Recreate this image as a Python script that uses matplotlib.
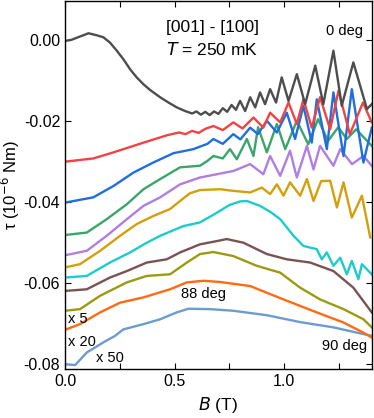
import matplotlib.pyplot as plt
from matplotlib.ticker import MultipleLocator

plt.rcParams["font.family"] = ["Liberation Sans", "DejaVu Sans"]

# 0 deg (gray)
b_0 = [0.0, 0.03, 0.068, 0.107, 0.145, 0.175, 0.205, 0.236, 0.266, 0.297, 0.327,
       0.358, 0.388, 0.434, 0.472, 0.51, 0.548, 0.58, 0.60, 0.62, 0.64, 0.66,
       0.68, 0.70, 0.72, 0.74, 0.76, 0.78, 0.799, 0.822, 0.845, 0.868, 0.89,
       0.913, 0.936, 0.963, 0.989, 1.02, 1.058, 1.096, 1.142, 1.179, 1.225,
       1.263, 1.316, 1.378, 1.40]
tau_0 = [-0.0002, 0.0001, 0.0009, 0.0017, 0.0012, 0.0007, -0.0006, -0.0026,
         -0.0047, -0.0072, -0.0092, -0.0109, -0.0123, -0.0141, -0.0154, -0.0166,
         -0.0175, -0.0181, -0.0176, -0.0184, -0.0177, -0.0185, -0.0176, -0.0182,
         -0.0168, -0.0177, -0.0160, -0.0172, -0.0150, -0.0175, -0.0141, -0.0166,
         -0.0129, -0.0158, -0.0121, -0.0154, -0.0092, -0.0150, -0.0084, -0.0158,
         -0.0063, -0.0158, -0.0026, -0.0162, -0.0055, -0.0170, -0.0158]

# red
b_r = [0.0, 0.129, 0.221, 0.358, 0.464, 0.52, 0.55, 0.58, 0.61, 0.64, 0.677,
       0.72, 0.768, 0.81, 0.86, 0.905, 0.936, 0.982, 1.02, 1.058, 1.088, 1.126,
       1.164, 1.21, 1.248, 1.30, 1.36, 1.40]
tau_r = [-0.0300, -0.0292, -0.0277, -0.0253, -0.0235, -0.0228, -0.0232, -0.0224,
         -0.0229, -0.0219, -0.0212, -0.0222, -0.0203, -0.0218, -0.0191, -0.0216,
         -0.0179, -0.0203, -0.0154, -0.0207, -0.0146, -0.0216, -0.0141, -0.0220,
         -0.0125, -0.0232, -0.0154, -0.0203]

# blue
b_b = [0.0, 0.129, 0.221, 0.312, 0.403, 0.495, 0.55, 0.586, 0.62, 0.65, 0.677,
       0.72, 0.768, 0.80, 0.845, 0.88, 0.921, 0.967, 1.012, 1.05, 1.088, 1.126,
       1.149, 1.195, 1.225, 1.271, 1.309, 1.362, 1.40]
tau_b = [-0.0401, -0.0388, -0.0360, -0.0327, -0.0302, -0.0279, -0.0273, -0.0269,
         -0.0262, -0.0256, -0.0244, -0.0256, -0.0232, -0.0245, -0.0216, -0.0232,
         -0.0199, -0.0228, -0.0179, -0.0244, -0.0162, -0.0253, -0.0146, -0.0269,
         -0.0129, -0.0286, -0.0121, -0.0302, -0.0216]

# green
b_g = [0.0, 0.099, 0.19, 0.282, 0.358, 0.434, 0.525, 0.57, 0.616, 0.65, 0.677,
       0.72, 0.753, 0.784, 0.83, 0.86, 0.881, 0.921, 0.967, 1.005, 1.058, 1.11,
       1.155, 1.20, 1.247, 1.286, 1.329, 1.40]
tau_g = [-0.0481, -0.0475, -0.0442, -0.0405, -0.0368, -0.0343, -0.0314, -0.0312,
         -0.0310, -0.0298, -0.0286, -0.0292, -0.0269, -0.0294, -0.0244, -0.0286,
         -0.0215, -0.0277, -0.0207, -0.0269, -0.0199, -0.0257, -0.0195, -0.0249,
         -0.0215, -0.0244, -0.0220, -0.0261]

# purple
b_p = [0.0, 0.099, 0.19, 0.282, 0.358, 0.434, 0.525, 0.616, 0.693, 0.768, 0.845,
       0.905, 0.936, 0.982, 1.027, 1.058, 1.104, 1.134, 1.164, 1.225, 1.256, 1.31,
       1.362, 1.40]
tau_p = [-0.0531, -0.0520, -0.0483, -0.0442, -0.0409, -0.0388, -0.0356, -0.0339,
         -0.0331, -0.0323, -0.0306, -0.0331, -0.0286, -0.0335, -0.0273, -0.0339,
         -0.0261, -0.0319, -0.0261, -0.0310, -0.0269, -0.0306, -0.0286, -0.0310]

# gold
b_y = [0.0, 0.068, 0.16, 0.251, 0.327, 0.403, 0.479, 0.525, 0.57, 0.616, 0.708,
       0.768, 0.845, 0.898, 0.936, 0.967, 0.997, 1.027, 1.073, 1.104, 1.134,
       1.169, 1.21, 1.241, 1.271, 1.309, 1.355, 1.393]
tau_y = [-0.0561, -0.0553, -0.0520, -0.0483, -0.0454, -0.0434, -0.0417, -0.0397,
         -0.0378, -0.0370, -0.0368, -0.0372, -0.0376, -0.0364, -0.0380, -0.0356,
         -0.0384, -0.0351, -0.0384, -0.0343, -0.0397, -0.0348, -0.0347, -0.0413,
         -0.0351, -0.0438, -0.0384, -0.0487]

# cyan
b_c = [0.0, 0.099, 0.205, 0.297, 0.373, 0.434, 0.54, 0.616, 0.693, 0.75, 0.80,
       0.83, 0.89, 0.94, 0.982, 1.043, 1.088, 1.149, 1.172, 1.195, 1.225, 1.256,
       1.286, 1.309, 1.339, 1.355, 1.40]
tau_c = [-0.0586, -0.0582, -0.0549, -0.0524, -0.0500, -0.0483, -0.0459, -0.0450,
         -0.0426, -0.0407, -0.0398, -0.0397, -0.0409, -0.0425, -0.0442, -0.0483,
         -0.0508, -0.0516, -0.0541, -0.0524, -0.0557, -0.0537, -0.0578, -0.0545,
         -0.0590, -0.0553, -0.0578]

# brown
b_n = [0.0, 0.099, 0.205, 0.282, 0.373, 0.464, 0.525, 0.616, 0.693, 0.738, 0.814,
       0.921, 1.012, 1.119, 1.225, 1.316, 1.40]
tau_n = [-0.0619, -0.0615, -0.0586, -0.0570, -0.0549, -0.0541, -0.0524, -0.0504,
         -0.0496, -0.0491, -0.0500, -0.0528, -0.0541, -0.0549, -0.0570, -0.0611,
         -0.0672]

# olive
b_o = [0.0, 0.068, 0.16, 0.282, 0.373, 0.479, 0.556, 0.616, 0.677, 0.768, 0.875,
       0.982, 1.073, 1.164, 1.271, 1.362, 1.40]
tau_o = [-0.0668, -0.0664, -0.0631, -0.0598, -0.0582, -0.0578, -0.0549, -0.0528,
         -0.0523, -0.0533, -0.0557, -0.0574, -0.0611, -0.0640, -0.0664, -0.0689,
         -0.0709]

# orange (88 deg)
b_88 = [0.0, 0.068, 0.16, 0.251, 0.358, 0.479, 0.556, 0.632, 0.708, 0.845, 0.997,
        1.149, 1.271, 1.362, 1.40]
tau_88 = [-0.0715, -0.0701, -0.0672, -0.0648, -0.0635, -0.0615, -0.0598, -0.0594,
          -0.0597, -0.0607, -0.0640, -0.0672, -0.0697, -0.0722, -0.0734]

# light blue (90 deg)
b_90 = [0.0, 0.046, 0.099, 0.175, 0.228, 0.266, 0.358, 0.434, 0.51, 0.563, 0.662,
        0.768, 0.921, 1.073, 1.225, 1.332, 1.40]
tau_90 = [-0.0800, -0.0802, -0.0771, -0.0746, -0.0730, -0.0714, -0.0701, -0.0689,
          -0.0672, -0.0663, -0.0664, -0.0668, -0.0679, -0.0696, -0.0709, -0.0722,
          -0.0730]

curves = [
    (b_90, tau_90, "#6c9bd2"),
    (b_88, tau_88, "#ff6a13"),
    (b_o, tau_o, "#9b9b12"),
    (b_n, tau_n, "#7b5252"),
    (b_c, tau_c, "#1ccccc"),
    (b_y, tau_y, "#d4a00a"),
    (b_p, tau_p, "#b07ee2"),
    (b_g, tau_g, "#3aa56a"),
    (b_b, tau_b, "#1f6ee0"),
    (b_r, tau_r, "#f04444"),
    (b_0, tau_0, "#4d4d4d"),
]

fig = plt.figure(figsize=(3.74, 4.18), dpi=100)
ax = fig.add_axes([0.174, 0.117, 0.82, 0.88])

for b, t, c in curves:
    ax.plot(b, t, color=c, lw=1.7, solid_joinstyle="round")

ax.set_xlim(0, 1.40)
ax.set_ylim(-0.0812, 0.0096)
ax.xaxis.set_major_locator(MultipleLocator(0.5))
ax.xaxis.set_minor_locator(MultipleLocator(0.25))
ax.yaxis.set_major_locator(MultipleLocator(0.02))
ax.yaxis.set_minor_locator(MultipleLocator(0.02))
ax.xaxis.set_major_formatter(plt.FuncFormatter(lambda v, p: f"{v:.1f}"))
ax.yaxis.set_major_formatter(plt.FuncFormatter(lambda v, p: f"{v:.2f}"))
ax.tick_params(which="both", direction="in", top=True, right=True, length=4,
               width=0.8, labelsize=11.5)
for s in ax.spines.values():
    s.set_linewidth(1.0)

ax.set_xlabel("$B$ (T)", fontsize=12.5)
ax.set_ylabel("τ (10$^{-6}$ Nm)", fontsize=12)
ax.yaxis.set_label_coords(-0.14, 0.5)

ax.text(0.673, 0.0032, "[001] - [100]", ha="center", va="center", fontsize=12.5)
ax.text(0.673, -0.0022, "$T$ = 250 mK", ha="center", va="center", fontsize=12.5)
ax.text(1.36, 0.0022, "0 deg", ha="right", va="center", fontsize=10.5)
ax.text(0.63, -0.0627, "88 deg", ha="center", va="center", fontsize=10.5)
ax.text(1.38, -0.0755, "90 deg", ha="right", va="center", fontsize=10.5)
ax.text(0.015, -0.0689, "x 5", ha="left", va="center", fontsize=10.5)
ax.text(0.015, -0.0746, "x 20", ha="left", va="center", fontsize=10.5)
ax.text(0.14, -0.0785, "x 50", ha="left", va="center", fontsize=10.5)

fig.savefig("out.png", dpi=100)
